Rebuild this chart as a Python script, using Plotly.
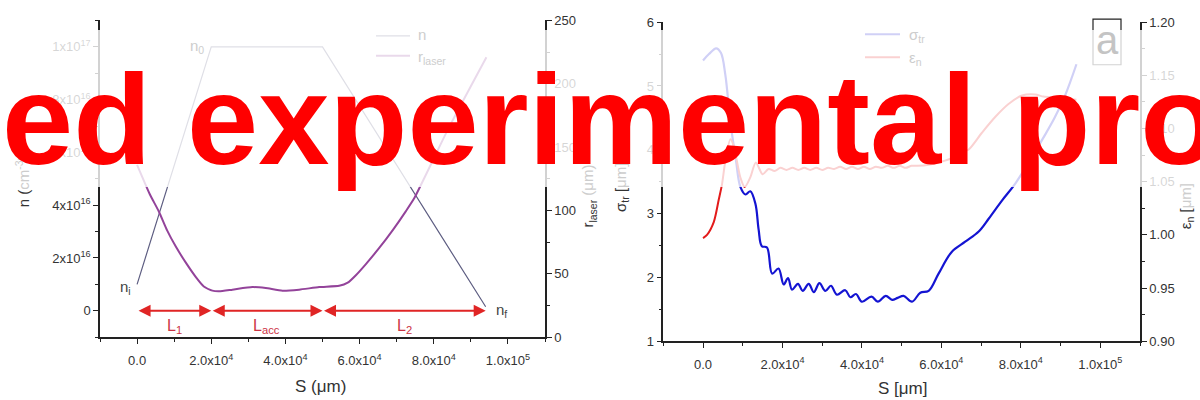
import plotly.graph_objects as go

# ---------------- data ----------------
# left panel: plasma density profile n(S) and laser spot radius r_laser(S)
n_S = [0, 20000, 50000, 94000]
n_vals = [1.0e16, 1.0e17, 1.0e17, 0.15e16]

r_S = [0, 3400, 5900, 8100, 10400, 13100, 15800, 18000, 20300, 22100, 25700, 31100,
       34700, 39200, 43700, 49100, 54500, 56800, 59000, 61700, 65300, 68900, 72500,
       74800, 84000, 94200]
r_vals = [136, 113, 99, 84.3, 71.7, 59.0, 47.6, 40.0, 36.7, 36.2, 37.5, 39.5,
          38.7, 36.7, 37.5, 39.5, 40.5, 43, 48.9, 57.7, 70.4, 84.3, 99.5,
          110, 165, 221]

# section boundaries L1 / Lacc / L2
L_bounds = [0, 20000, 50000, 94000]
L_names = ["L<sub>1</sub>", "L<sub>acc</sub>", "L<sub>2</sub>"]

# right panel: sigma_tr(S) and eps_n(S)
sig_S = [0, 1500, 3300, 4500, 5600, 6900, 8300, 9400, 10700, 11900, 13200, 14000, 14800,
         16100, 17400, 19000, 20300, 21400, 22400, 23900, 25100, 26600, 27900, 29300,
         30800, 32200, 33700, 35800, 37100, 38500, 40000, 42400, 44000, 46000, 47600,
         49000, 50500, 52600, 54700, 56800, 59300, 62600, 66000, 69400, 71900, 75200,
         78600, 82000, 85500, 88500, 91200, 94000]
sig_vals = [5.40, 5.50, 5.59, 5.52, 5.18, 4.43, 3.83, 3.42, 3.30, 3.35, 3.15, 2.75, 2.49,
            2.47, 2.06, 2.14, 1.89, 1.99, 1.81, 1.90, 1.79, 1.90, 1.77, 1.91,
            1.79, 1.87, 1.73, 1.80, 1.69, 1.74, 1.62, 1.70, 1.62, 1.71, 1.65,
            1.68, 1.71, 1.62, 1.76, 1.79, 2.06, 2.40, 2.56, 2.72, 2.92, 3.20,
            3.47, 3.80, 4.17, 4.50, 4.86, 5.34]

eps_S = [0, 1000, 2700, 3950, 4800, 5600, 6900, 7700, 9400, 10500, 11900, 13300, 15000,
         16500, 18000, 19500, 21000, 22500, 24000, 25500, 27000, 28500, 30000, 31500,
         33000, 34500, 36000, 37500, 39000, 40500, 42000, 43500, 45000, 46500, 48000,
         49500, 51000, 52500, 54000, 56800, 60100, 62500, 65200, 66800, 70200, 73600,
         76900, 80300, 83600, 85700, 89000, 94000]
eps_vals = [0.997, 1.000, 1.012, 1.033, 1.048, 1.069, 1.090, 1.084, 1.054, 1.045, 1.054, 1.068, 1.057,
            1.062, 1.060, 1.063, 1.061, 1.063, 1.061, 1.063, 1.061, 1.063, 1.061, 1.063,
            1.062, 1.064, 1.062, 1.064, 1.062, 1.064, 1.062, 1.064, 1.063, 1.065, 1.063,
            1.065, 1.063, 1.065, 1.065, 1.066, 1.069, 1.072, 1.078, 1.080, 1.096, 1.111,
            1.123, 1.131, 1.132, 1.130, 1.129, 1.127]

# tick labels
x_tickvals = [0, 20000, 40000, 60000, 80000, 100000]
x_ticktext = ["0.0", "2.0x10<sup>4</sup>", "4.0x10<sup>4</sup>", "6.0x10<sup>4</sup>",
              "8.0x10<sup>4</sup>", "1.0x10<sup>5</sup>"]
n_tickvals = [0, 2e16, 4e16, 6e16, 8e16, 1e17]
n_ticktext = ["0", "2x10<sup>16</sup>", "4x10<sup>16</sup>", "6x10<sup>16</sup>",
              "8x10<sup>16</sup>", "1x10<sup>17</sup>"]
r_tickvals = [0, 50, 100, 150, 200, 250]
sig_tickvals = [1, 2, 3, 4, 5, 6]
eps_tickvals = [0.90, 0.95, 1.00, 1.05, 1.10, 1.15, 1.20]
eps_ticktext = ["0.90", "0.95", "1.00", "1.05", "1.10", "1.15", "1.20"]

# ---------------- layout helpers ----------------
W, H = 1200, 400
def px(x):
    return x / W
def py(y):
    return 1 - y / H

FONT = "Liberation Sans, Arial, sans-serif"
DARK = "#222222"
TXT = "#333333"
FADE = "#cdcdcd"

N_COL = "#5e5e82"
R_COL = "#93439a"
SIG_COL = "#1414d2"
EPS_COL = "#e31b1b"
ARROW_COL = "#e02525"
LTXT_COL = "#cc3344"

fig = go.Figure()
fig.add_trace(go.Scatter(x=n_S, y=n_vals, xaxis="x", yaxis="y", mode="lines",
                         line=dict(color=N_COL, width=1.2), showlegend=False))
fig.add_trace(go.Scatter(x=r_S, y=r_vals, xaxis="x", yaxis="y2", mode="lines",
                         line=dict(color=R_COL, width=2, shape="spline", smoothing=0.5),
                         showlegend=False))
fig.add_trace(go.Scatter(x=sig_S, y=sig_vals, xaxis="x2", yaxis="y3", mode="lines",
                         line=dict(color=SIG_COL, width=2.2, shape="spline", smoothing=1.0),
                         showlegend=False))
fig.add_trace(go.Scatter(x=eps_S, y=eps_vals, xaxis="x2", yaxis="y4", mode="lines",
                         line=dict(color=EPS_COL, width=2, shape="spline", smoothing=0.8),
                         showlegend=False))

axis_common = dict(showline=True, linecolor=DARK, linewidth=1.5, ticks="outside",
                   ticklen=5, tickwidth=1.2, tickcolor=DARK, showgrid=False,
                   zeroline=False, tickfont=dict(family=FONT, size=13, color=TXT))

def minor(dt, t0=0):
    return dict(tickmode="linear", tick0=t0, dtick=dt, ticks="outside", ticklen=3,
                tickwidth=1.2, tickcolor=DARK, showgrid=False)

fig.update_layout(
    width=W, height=H, margin=dict(l=0, r=0, t=0, b=0),
    paper_bgcolor="white", plot_bgcolor="white", showlegend=False,
    xaxis=dict(domain=[px(100), px(545)], anchor="y", range=[-1e4, 1.1e5],
               tickmode="array", tickvals=x_tickvals, ticktext=x_ticktext,
               ticklabelstandoff=6, minor=minor(1e4), **axis_common),
    yaxis=dict(domain=[py(343), py(14)], anchor="x", range=[-1e16, 1.1e17],
               tickmode="array", tickvals=n_tickvals, ticktext=n_ticktext,
               minor=minor(1e16), **axis_common),
    yaxis2=dict(overlaying="y", side="right", anchor="x", range=[0, 250],
                tickmode="array", tickvals=r_tickvals, minor=minor(25), **axis_common),
    xaxis2=dict(domain=[px(663.3), px(1140)], anchor="y3", range=[-1e4, 1.1e5],
                tickmode="array", tickvals=x_tickvals, ticktext=x_ticktext,
                ticklabelstandoff=5, minor=minor(1e4), **axis_common),
    yaxis3=dict(domain=[py(347.3), py(15.7)], anchor="x2", range=[1, 6],
                tickmode="array", tickvals=sig_tickvals, minor=minor(0.5), **axis_common),
    yaxis4=dict(overlaying="y3", side="right", anchor="x2", range=[0.9, 1.2],
                tickmode="array", tickvals=eps_tickvals, ticktext=eps_ticktext,
                minor=minor(0.025, 0.9), **axis_common),
)

shapes = []
# legend lines (drawn under the fading veil)
for (x0, x1, y, c, w) in [(376, 410, 30, N_COL, 1.2), (376, 410, 50.7, R_COL, 2),
                          (865, 900, 28.3, SIG_COL, 2), (865, 900, 52.3, EPS_COL, 2)]:
    shapes.append(dict(type="line", xref="paper", yref="paper", x0=px(x0), x1=px(x1),
                       y0=py(y), y1=py(y), line=dict(color=c, width=w), layer="above"))
# "a" panel label box
shapes.append(dict(type="rect", xref="paper", yref="paper", x0=px(1093), x1=px(1121),
                   y0=py(60), y1=py(12.7), line=dict(color=DARK, width=1.2), layer="above"))
# white fading veil over the upper band
shapes.append(dict(type="rect", xref="paper", yref="paper", x0=0, x1=1,
                   y0=py(187), y1=py(24), fillcolor="rgba(255,255,255,0.80)",
                   line=dict(width=0), layer="above"))
fig.update_layout(shapes=shapes)

ann = []
def A(text, x, y, size, color, **kw):
    d = dict(text=text, x=x, y=y, xref="paper", yref="paper", showarrow=False,
             font=dict(family=FONT, size=size, color=color))
    d.update(kw)
    ann.append(d)

# legend texts
A("n", px(416), py(29), 15, FADE, xanchor="left", yanchor="middle")
A("r<sub>laser</sub>", px(416), py(52), 15, FADE, xanchor="left", yanchor="middle")
A("σ<sub>tr</sub>", px(907), py(30), 15, FADE, xanchor="left", yanchor="middle")
A("ε<sub>n</sub>", px(907), py(54), 15, FADE, xanchor="left", yanchor="middle")
A("a", px(1107), py(34), 40, "#c4c4c4", xanchor="center", yanchor="middle")

# axis titles
A("S (μm)", px(320), py(394), 17, TXT, xanchor="center", yanchor="middle")
A("S [μm]", px(902), py(396), 17, TXT, xanchor="center", yanchor="middle")
A("n (<span style='color:%s'>cm<sup>-3</sup>)</span>" % FADE, px(22), py(181), 15, TXT,
  textangle=-90, xanchor="center", yanchor="middle")
A("r<sub>laser</sub> <span style='color:%s'>(μm)</span>" % FADE, px(589), py(197), 15, TXT,
  textangle=-90, xanchor="center", yanchor="middle")
A("σ<sub>tr</sub> [<span style='color:%s'>μm]</span>" % FADE, px(622), py(188), 15, TXT,
  textangle=-90, xanchor="center", yanchor="middle")
A("ε<sub>n</sub> [<span style='color:%s'>μm]</span>" % FADE, px(1186), py(207), 15, TXT,
  textangle=-90, xanchor="center", yanchor="middle")

# density labels attached to the profile corners
ann.append(dict(text="n<sub>0</sub>", x=n_S[1], y=n_vals[1], xref="x", yref="y",
                showarrow=False, xanchor="right", yanchor="middle", xshift=-5,
                font=dict(family=FONT, size=15, color=FADE)))
ann.append(dict(text="n<sub>i</sub>", x=n_S[0], y=n_vals[0], xref="x", yref="y",
                showarrow=False, xanchor="right", yanchor="middle", xshift=-4, yshift=-3,
                font=dict(family=FONT, size=15, color="#444")))
ann.append(dict(text="n<sub>f</sub>", x=n_S[-1], y=n_vals[-1], xref="x", yref="y",
                showarrow=False, xanchor="left", yanchor="middle", xshift=8, yshift=-4,
                font=dict(family=FONT, size=15, color="#444")))

# section arrows and labels
for i in range(len(L_names)):
    a, b = L_bounds[i], L_bounds[i + 1]
    ann.append(dict(text="", x=b, y=0, ax=a, ay=0, xref="x", yref="y", axref="x", ayref="y",
                    showarrow=True, arrowside="end+start", arrowhead=2, startarrowhead=2,
                    arrowsize=1.2, startarrowsize=1.2, arrowwidth=2, arrowcolor=ARROW_COL,
                    standoff=0, startstandoff=0))
    ann.append(dict(text=L_names[i], x=(a + b) / 2, y=0, xref="x", yref="y", showarrow=False,
                    xanchor="center", yanchor="top", yshift=-4,
                    font=dict(family=FONT, size=16, color=LTXT_COL)))

# big red overlay text
ann.append(dict(text="<b>ed experimental pro</b>", x=px(0), y=py(117), xref="paper", yref="paper",
                showarrow=False, xanchor="left", yanchor="middle",
                font=dict(family=FONT, size=128, color="#ff0000")))

fig.update_layout(annotations=ann)
fig.write_html("out.html")
